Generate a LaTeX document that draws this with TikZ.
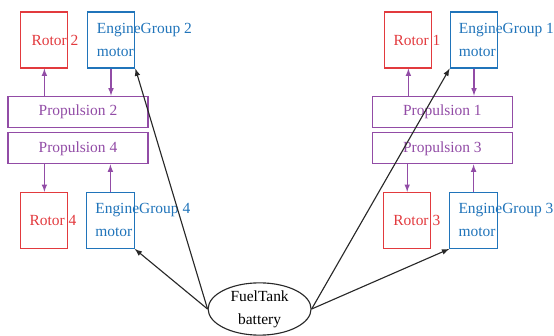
\documentclass[tikz,border=0pt]{standalone}
\usepackage{fontspec}
\setmainfont{Liberation Serif}
\usepackage{tikz}
\definecolor{rotorred}{RGB}{226,58,62}
\definecolor{engineblue}{RGB}{32,116,186}
\definecolor{proppurple}{RGB}{146,76,166}
\definecolor{linegray}{RGB}{40,40,40}
\tikzset{
  rotorbox/.style={draw=rotorred,line width=0.8pt,minimum width=1.175cm,minimum height=1.4cm,inner sep=0pt},
  enginebox/.style={draw=engineblue,line width=0.8pt,minimum width=1.19cm,minimum height=1.4cm,inner sep=0pt},
  propbox/.style={draw=proppurple,line width=0.8pt,minimum width=3.5cm,minimum height=0.775cm,inner sep=0pt,text=proppurple},
  fuelnode/.style={draw=linegray,ellipse,line width=0.8pt,minimum width=2.575cm,minimum height=1.3cm,inner sep=0pt,align=center},
  rotortext/.style={anchor=west,inner sep=0pt,text=rotorred},
  enginetext/.style={anchor=west,inner sep=0pt,text=engineblue,align=left},
  parrow/.style={->,>=latex,proppurple,line width=0.8pt},
  farrow/.style={->,>=latex,linegray,line width=0.8pt}
}
\usetikzlibrary{shapes.geometric}
\begin{document}
\begin{tikzpicture}[font=\fontsize{11pt}{16.3pt}\selectfont]
    \useasboundingbox (0,0) rectangle (13.85,8.4);

    % left group
    \node[rotorbox] (rotor2) at (1.11,7.4) {};
    \node[enginebox] (engine2) at (2.775,7.4) {};
    \node[propbox] (prop2) at (1.95,5.61) {Propulsion 2};
    \node[propbox] (prop4) at (1.95,4.69) {Propulsion 4};
    \node[rotorbox] (rotor4) at (1.11,2.89) {};
    \node[enginebox] (engine4) at (2.76,2.89) {};

    % right group
    \node[rotorbox] (rotor1) at (10.21,7.4) {};
    \node[enginebox] (engine1) at (11.85,7.4) {};
    \node[propbox] (prop1) at (11.06,5.61) {Propulsion 1};
    \node[propbox] (prop3) at (11.06,4.69) {Propulsion 3};
    \node[rotorbox] (rotor3) at (10.18,2.89) {};
    \node[enginebox] (engine3) at (11.84,2.89) {};

    % texts
    \node[rotortext] (rotor2txt) at ([xshift=0.275cm]rotor2.west) {Rotor 2};
    \node[rotortext] (rotor1txt) at ([xshift=0.225cm]rotor1.west) {Rotor 1};
    \node[rotortext] (rotor4txt) at ([xshift=0.225cm]rotor4.west) {Rotor 4};
    \node[rotortext] (rotor3txt) at ([xshift=0.25cm]rotor3.west) {Rotor 3};
    \node[enginetext] (engine2txt) at ([xshift=0.25cm]engine2.west) {EngineGroup 2\\motor};
    \node[enginetext] (engine1txt) at ([xshift=0.225cm]engine1.west) {EngineGroup 1\\motor};
    \node[enginetext] (engine4txt) at ([xshift=0.225cm]engine4.west) {EngineGroup 4\\motor};
    \node[enginetext] (engine3txt) at ([xshift=0.225cm]engine3.west) {EngineGroup 3\\motor};

    \node[fuelnode] (fuel) at (6.49,0.675) {FuelTank\\battery};

    % purple links
    \draw[parrow] (prop2.north -| rotor2.south) -- (rotor2.south);
    \draw[parrow] (engine2.south) -- (engine2.south |- prop2.north);
    \draw[parrow] (prop4.south -| rotor4.north) -- (rotor4.north);
    \draw[parrow] (engine4.north) -- (engine4.north |- prop4.south);
    \draw[parrow] (prop1.north -| rotor1.south) -- (rotor1.south);
    \draw[parrow] (engine1.south) -- (engine1.south |- prop1.north);
    \draw[parrow] (prop3.south -| rotor3.north) -- (rotor3.north);
    \draw[parrow] (engine3.north) -- (engine3.north |- prop3.south);

    % supply lines
    \draw[farrow] (fuel.west) -- (engine2.south east);
    \draw[farrow] (fuel.west) -- (engine4.south east);
    \draw[farrow] (fuel.east) -- (engine1.south west);
    \draw[farrow] (fuel.east) -- (engine3.south west);
\end{tikzpicture}
\end{document}
